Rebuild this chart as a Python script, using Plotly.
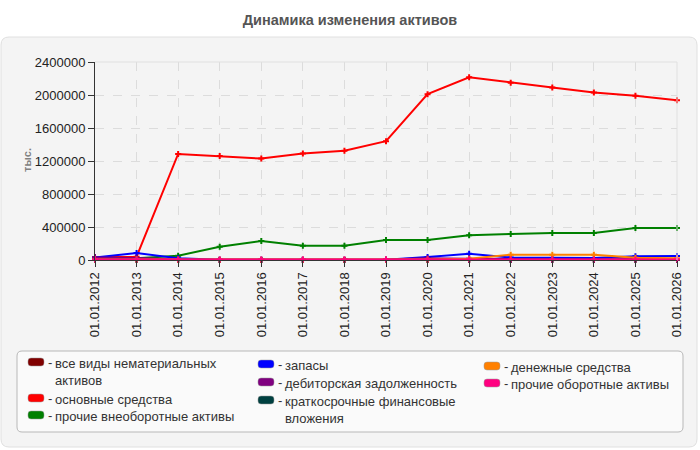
import plotly.graph_objects as go

# --- данные (тыс.)
dates = ["01.01.2012", "01.01.2013", "01.01.2014", "01.01.2015", "01.01.2016",
         "01.01.2017", "01.01.2018", "01.01.2019", "01.01.2020", "01.01.2021",
         "01.01.2022", "01.01.2023", "01.01.2024", "01.01.2025", "01.01.2026"]

nematerialnye = [2000, 2000, 1000, 1000, 1000, 1000, 1000, 1000, 1000, 1000, 1000, 1000, 1000, 1000, 1000]
osnovnye = [36000, 40000, 1285000, 1260000, 1230000, 1290000, 1325000, 1440000,
            2010000, 2215000, 2150000, 2090000, 2030000, 1990000, 1935000]
vneoborotnye = [10000, 20000, 52000, 161000, 230000, 173000, 173000, 242000,
                242000, 299000, 315000, 327000, 327000, 388000, 388000]
zapasy = [30000, 85000, 20000, 4000, 4000, 4000, 4000, 4000, 35000, 75000, 30000, 25000, 25000, 45000, 50000]
debitorka = [30000, 25000, 5000, 3000, 3000, 3000, 3000, 5000, 20000, 15000, 12000, 10000, 10000, 12000, 12000]
kratkosrochnye = [0, 0, 0, 0, 0, 0, 0, 0, 0, 0, 0, 0, 0, 0, 0]
denezhnye = [5000, 5000, 3000, 3000, 3000, 3000, 3000, 3000, 5000, 15000, 65000, 65000, 65000, 28000, 20000]
prochie_oborotnye = [7000, 7000, 7000, 7000, 7000, 7000, 7000, 7000, 7000, 7000, 7000, 7000, 7000, 7000, 7000]

series = [
    ("все виды нематериальных активов", nematerialnye, "#800000"),
    ("основные средства", osnovnye, "#ff0000"),
    ("прочие внеоборотные активы", vneoborotnye, "#008000"),
    ("запасы", zapasy, "#0000ff"),
    ("дебиторская задолженность", debitorka, "#800080"),
    ("краткосрочные финансовые вложения", kratkosrochnye, "#004040"),
    ("денежные средства", denezhnye, "#ff8000"),
    ("прочие оборотные активы", prochie_oborotnye, "#ff0080"),
]

# --- геометрия (пиксели)
W, H = 700, 450
L, R, T, B = 95, 677, 62, 260
PW, PH = R - L, B - T


def px(x):
    return (x - L) / PW


def py(y):
    return (B - y) / PH


def rounded(x0, y0, x1, y1, r):
    # прямоугольник со скруглёнными углами в координатах paper
    a, b, c, d = px(x0), px(x1), py(y0), py(y1)
    rx, ry = r / PW, r / PH
    return (f"M{a + rx},{c} L{b - rx},{c} Q{b},{c} {b},{c - ry} "
            f"L{b},{d + ry} Q{b},{d} {b - rx},{d} L{a + rx},{d} "
            f"Q{a},{d} {a},{d + ry} L{a},{c - ry} Q{a},{c} {a + rx},{c} Z")


FONT = "Liberation Sans, Arial, sans-serif"

fig = go.Figure()
for name, vals, color in series:
    fig.add_trace(go.Scatter(x=dates, y=vals, name=name, mode="lines+markers",
                             line=dict(color=color, width=2),
                             marker=dict(symbol="cross", size=5, color=color),
                             cliponaxis=False, showlegend=False))

shapes = [
    dict(type="path", xref="paper", yref="paper", layer="below",
         path=rounded(1, 37, 697, 447, 8), fillcolor="#f4f4f4",
         line=dict(color="#e0e0e0", width=1)),
    dict(type="path", xref="paper", yref="paper", layer="below",
         path=rounded(17, 351, 683, 432, 5), fillcolor="#fafafa",
         line=dict(color="#b8b8b8", width=1)),
    dict(type="line", xref="paper", yref="paper", x0=0, x1=1, y0=1, y1=1,
         line=dict(color="#e0e0e0", width=1)),
    dict(type="line", xref="paper", yref="paper", x0=1, x1=1, y0=0, y1=1,
         line=dict(color="#e0e0e0", width=1)),
]

annotations = [
    dict(text="тыс.", xref="paper", yref="paper", x=px(19), y=py(160),
         textangle=-90, showarrow=False,
         font=dict(family=FONT, size=11, color="#808080", weight="bold")),
]

# --- легенда: колонка и y первой строки
legend_cols = [28, 258, 484]
legend_rows = [(0, 362), (0, 398), (0, 415), (1, 364), (1, 382), (1, 400), (2, 366), (2, 383)]
legend_labels = [
    "все виды нематериальных<br>активов",
    "основные средства",
    "прочие внеоборотные активы",
    "запасы",
    "дебиторская задолженность",
    "краткосрочные финансовые<br>вложения",
    "денежные средства",
    "прочие оборотные активы",
]
for (name, vals, color), (col, y0), label in zip(series, legend_rows, legend_labels):
    x0 = legend_cols[col]
    shapes.append(dict(type="path", xref="paper", yref="paper", layer="below",
                       path=rounded(x0, y0 - 4, x0 + 16, y0 + 4, 3),
                       fillcolor=color, line=dict(color="#999999", width=0.5)))
    annotations.append(dict(text="-", xref="paper", yref="paper", x=px(x0 + 18), y=py(y0),
                            xanchor="left", yanchor="middle", showarrow=False,
                            font=dict(family=FONT, size=13, color="#333333")))
    annotations.append(dict(text=label, xref="paper", yref="paper", x=px(x0 + 25), y=py(y0 - 8),
                            xanchor="left", yanchor="top", align="left", showarrow=False,
                            font=dict(family=FONT, size=13, color="#333333")))

fig.update_layout(
    width=W, height=H, autosize=False,
    margin=dict(l=L, r=W - R, t=T, b=H - B, pad=0),
    paper_bgcolor="#ffffff", plot_bgcolor="#fafaf4",
    font=dict(family=FONT, size=13, color="#222222"),
    title=dict(text="<b>Динамика изменения активов</b>", x=0.5, xanchor="center",
               y=1 - 20 / H, yanchor="middle", yref="container",
               font=dict(family=FONT, size=14.5, color="#555555")),
    shapes=shapes, annotations=annotations,
    xaxis=dict(type="category", range=[0, len(dates) - 1], tickangle=-90,
               showline=True, linecolor="#333333", linewidth=1,
               ticks="outside", ticklen=6, tickcolor="#333333",
               showgrid=True, gridcolor="#dcdcdc", griddash="dash", zeroline=False,
               tickfont=dict(family=FONT, size=13, color="#222222")),
    yaxis=dict(range=[0, 2400000], dtick=400000, tickformat="d",
               showline=True, linecolor="#333333", linewidth=1,
               ticks="outside", ticklen=6, tickcolor="#333333",
               showgrid=True, gridcolor="#dcdcdc", griddash="dash", zeroline=False,
               tickfont=dict(family=FONT, size=13, color="#222222")),
)

# убрать отступ body, чтобы график стоял в углу окна
fig.write_html("out.html", config={"displayModeBar": False},
               post_script="document.body.style.margin='0';")
